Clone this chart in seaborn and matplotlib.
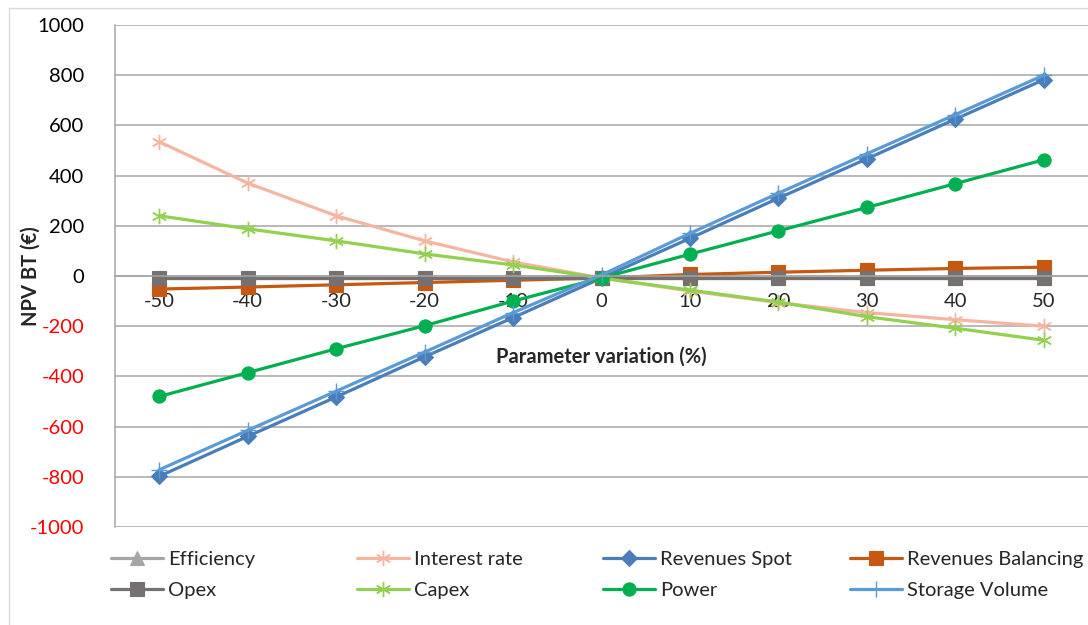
import matplotlib
matplotlib.use("Agg")
import matplotlib.pyplot as plt
import seaborn as sns
import pandas as pd
from matplotlib.lines import Line2D

# NPV sensitivity to parameter variation
variation = [-50, -40, -30, -20, -10, 0, 10, 20, 30, 40, 50]
efficiency = [-9, -9, -9, -9, -9, -9, -9, -9, -9, -9, -9]
interest_rate = [535, 370, 240, 140, 56, -8, -60, -106, -146, -174, -200]
revenues_spot = [-798, -639, -482, -322, -166, -8, 150, 310, 467, 625, 782]
revenues_balancing = [-52, -44, -35, -26, -17, -8, 6, 15, 23, 30, 35]
opex = [-9, -9, -9, -9, -9, -9, -9, -9, -9, -9, -9]
capex = [240, 188, 140, 88, 44, -8, -56, -104, -162, -208, -256]
power = [-480, -385, -290, -198, -100, -8, 87, 180, 273, 368, 463]
storage_volume = [-772, -615, -459, -303, -146, 4, 170, 330, 487, 643, 800]

series_names = ["Efficiency", "Interest rate", "Revenues Spot", "Revenues Balancing",
                "Opex", "Capex", "Power", "Storage Volume"]
series_values = [efficiency, interest_rate, revenues_spot, revenues_balancing,
                 opex, capex, power, storage_volume]

df = pd.DataFrame({"Variation": variation})
for name, vals in zip(series_names, series_values):
    df[name] = vals
df = df.melt(id_vars="Variation", var_name="Parameter", value_name="NPV")

star = (6, 2, 0)
styles = {
    "Efficiency": ("#a5a5a5", "^", 9.5),
    "Interest rate": ("#f5b5a0", star, 11),
    "Revenues Spot": ("#4a7ebb", "D", 8),
    "Revenues Balancing": ("#c65911", "s", 9.5),
    "Opex": ("#767171", "s", 9.5),
    "Capex": ("#92d050", star, 11),
    "Power": ("#00b050", "o", 9.5),
    "Storage Volume": ("#5b9bd5", "+", 12),
}

sns.set_style("white")
plt.rcParams["font.family"] = ["Lato", "DejaVu Sans"]
plt.rcParams["axes.unicode_minus"] = False

fig = plt.figure(figsize=(10.88, 6.25), dpi=100)
ax = fig.add_axes([115 / 1088, 1 - 527 / 625, 1 - 115 / 1088, 502 / 625])

for name in series_names:
    color, marker, ms = styles[name]
    sub = df[df["Parameter"] == name]
    sns.lineplot(data=sub, x="Variation", y="NPV", ax=ax, color=color, marker=marker,
                 markersize=ms, markeredgecolor=color, markerfacecolor=color,
                 markeredgewidth=1.0 if marker in ("+", star) else 0.8,
                 linewidth=2.3, label=name, legend=False)

if ax.get_legend() is not None:
    ax.get_legend().remove()

ax.set_xlim(-55, 55)
ax.set_ylim(-1000, 1000)
ax.set_xticks(variation)
ax.set_xticks([-55 + 10 * i for i in range(12)], minor=True)
ax.set_yticks(range(-1000, 1001, 200))
ax.yaxis.grid(True, color="#a6a6a6", linewidth=1.1)
ax.set_axisbelow(True)

for side in ["top", "right"]:
    ax.spines[side].set_visible(False)
ax.spines["bottom"].set_position(("data", 0))
ax.spines["bottom"].set_color("#a6a6a6")
ax.spines["left"].set_color("#a6a6a6")
ax.spines["bottom"].set_linewidth(1.1)
ax.spines["left"].set_linewidth(1.1)

ax.tick_params(axis="x", which="minor", length=4, direction="out", color="#a6a6a6")
ax.tick_params(axis="x", which="major", length=0, pad=12, labelsize=14.5)
ax.tick_params(axis="y", length=6, direction="out", color="#a6a6a6", pad=16, labelsize=14.5)
ax.set_yticklabels([str(v) for v in range(-1000, 1001, 200)])
for lbl, v in zip(ax.get_yticklabels(), range(-1000, 1001, 200)):
    lbl.set_color("red" if v < 0 else "black")
for lbl in ax.get_xticklabels():
    lbl.set_zorder(5)

ax.set_xlabel("")
ax.set_ylabel("NPV BT (€)", fontsize=14.5, fontweight="bold")
ax.yaxis.set_label_coords(-0.076, 0.5)
ax.text(0, -320, "Parameter variation (%)", ha="center", va="center",
        fontsize=14.5, fontweight="bold")

# legend: four columns laid out like the original
lines = {name: ln for name, ln in zip(series_names, ax.get_lines())}
col_x = [111, 357, 603, 850]
for i, x0 in enumerate(col_x):
    names = [series_names[i], series_names[i + 4]]
    handles = [lines[n] for n in names]
    fig.legend(handles, names, loc="upper left",
               bbox_to_anchor=(x0 / 1088, 1 - 551 / 625), frameon=False,
               fontsize=14.5, handlelength=2.6, handletextpad=0.25,
               labelspacing=0.68, borderaxespad=0, borderpad=0)

# chart frame
fig.add_artist(Line2D([9 / 1088, 9 / 1088], [0, 1 - 8 / 625], color="#d9d9d9", linewidth=1))
fig.add_artist(Line2D([9 / 1088, 1], [1 - 8 / 625, 1 - 8 / 625], color="#d9d9d9", linewidth=1))

fig.savefig("out.png", dpi=100)
